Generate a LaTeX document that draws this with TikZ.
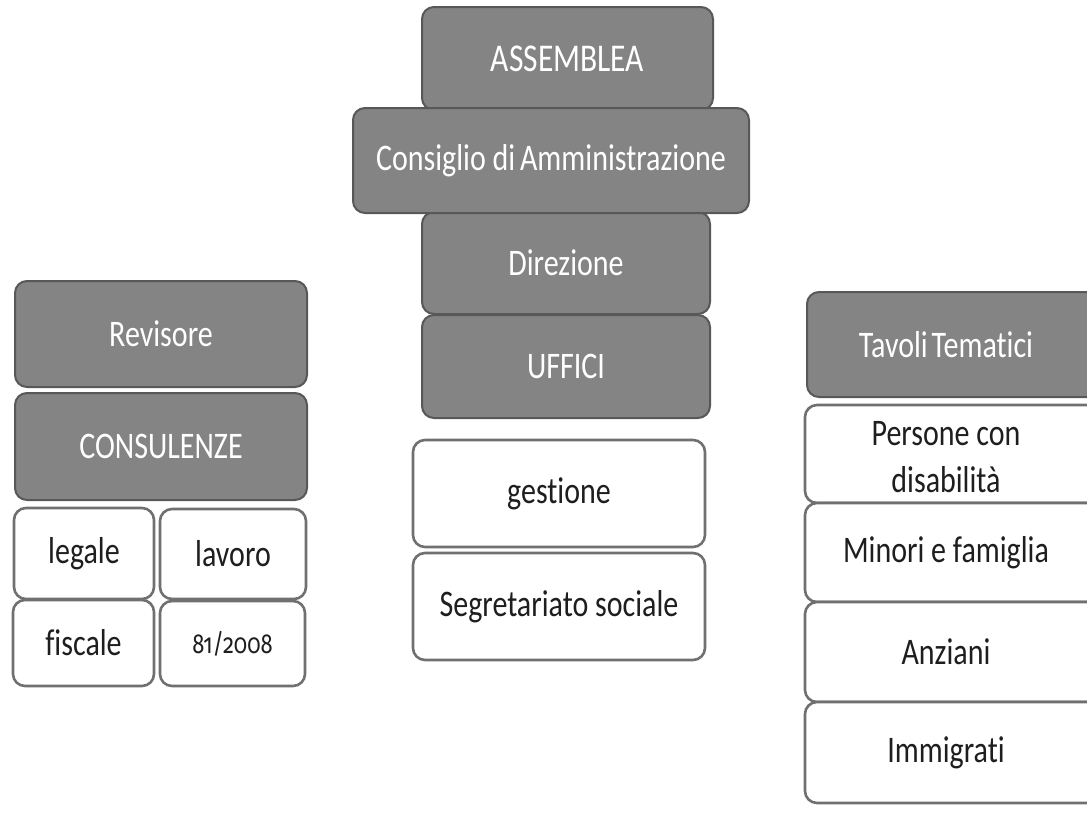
\documentclass[tikz,border=0pt]{standalone}
\usepackage{fontspec}
\setmainfont{Carlito}[Ligatures=NoCommon]
\newfontfamily\oldnum{Fira Sans}[Numbers=OldStyle]
\definecolor{boxgray}{RGB}{132,132,132}
\definecolor{grayedge}{RGB}{88,88,88}
\definecolor{whiteedge}{RGB}{112,112,112}
\definecolor{inkdark}{RGB}{30,30,30}
\newcommand{\vs}[1]{\scalebox{1}[1.25]{#1}}
\begin{document}
\begin{tikzpicture}[x=1pt,y=-1pt,
  base/.style={rounded corners=12pt, inner sep=0pt, font=\fontsize{30}{36}\selectfont},
  graybox/.style={base, fill=boxgray, draw=grayedge, line width=2pt, text=white},
  whitebox/.style={base, fill=white, draw=whiteedge, line width=2.6pt, text=inkdark},
  label/.style={font=\fontsize{30}{36}\selectfont}]
\useasboundingbox (0,0) rectangle (1087,815);
\clip (0,0) rectangle (1087,815);
\fill[white] (0,0) rectangle (1087,815);
% left column
\node[graybox, minimum width=292pt, minimum height=106pt] (rev) at (161,334) {\vs{Revisore}};
\node[graybox, minimum width=292pt, minimum height=107pt] (cons) at (161,446.5) {\vs{CONSULENZE}};
\node[whitebox, minimum width=140pt, minimum height=91pt] (legale) at (84,553.5) {\vs{legale}};
\node[whitebox, minimum width=146pt, minimum height=90pt] (lavoro) at (233,554) {\vs{lavoro}};
\node[whitebox, minimum width=141pt, minimum height=86pt] (fiscale) at (83.5,643) {\vs{fiscale}};
\node[whitebox, minimum width=145pt, minimum height=85pt, font=\oldnum\fontsize{22}{28}\selectfont] (n81) at (232.5,643.5) {\vs{81/2008}};
% centre column
\node[graybox, minimum width=291pt, minimum height=103pt, font=\fontsize{31.5}{36}\selectfont] (ass) at (567.5,58.5) {\vs{ASSEMBLEA}};
\node[graybox, minimum width=288pt, minimum height=102pt] (dir) at (566,263) {\vs{Direzione}};
\node[graybox, minimum width=288pt, minimum height=103pt] (uff) at (566,366.5) {\vs{UFFICI}};
\node[graybox, minimum width=396pt, minimum height=105pt] (cda) at (551,160.5) {\vs{Consiglio di\kern-2pt\ Amministrazione}};
\node[whitebox, minimum width=292pt, minimum height=107pt] (gest) at (559,493.5) {\vs{gestione}};
\node[whitebox, minimum width=292pt, minimum height=107pt] (segr) at (559,606.5) {\vs{Segretariato sociale}};
% right column (boxes run past the right edge)
\node[graybox, minimum width=293pt, minimum height=105pt] (tav) at (953.5,344.5) {};
\node[label, text=white] (tavt) at (946,344.5) {\vs{Tavoli\kern-3pt\ Tematici}};
\node[whitebox, minimum width=295pt, minimum height=98pt] (pers) at (952.5,454) {};
\node[label, text=inkdark, align=center] (perst) at (946,460) {\vs{\begin{tabular}{@{}c@{}}Persone con\\[1pt]disabilità\end{tabular}}};
\node[whitebox, minimum width=295pt, minimum height=99pt] (min) at (952.5,552.5) {};
\node[label, text=inkdark] (mint) at (946,552.5) {\vs{Minori e famiglia}};
\node[whitebox, minimum width=295pt, minimum height=100pt] (anz) at (952.5,652) {};
\node[label, text=inkdark] (anzt) at (946,652) {\vs{Anziani}};
\node[whitebox, minimum width=295pt, minimum height=101pt] (imm) at (952.5,752.5) {};
\node[label, text=inkdark] (immt) at (946,752.5) {\vs{Immigrati}};
\end{tikzpicture}
\end{document}
